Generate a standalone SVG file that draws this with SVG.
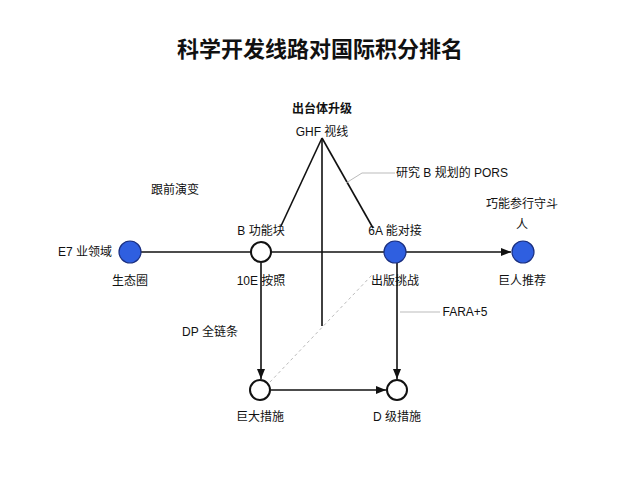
<svg xmlns="http://www.w3.org/2000/svg" width="640" height="480" viewBox="0 0 640 480">
<style>
text{font-family:"Liberation Sans","Noto Sans CJK SC",sans-serif;font-size:12px;fill:#111;text-anchor:middle}
.t{font-size:22px;font-weight:bold}
.b{fill:#2f5fe0;stroke:#1a2f80;stroke-width:1.2}
.w{fill:#fff;stroke:#111;stroke-width:2}
.l{stroke:#111;stroke-width:1.6;fill:none}
.g{stroke:#bbb;stroke-width:1;fill:none}
</style>
<defs><marker id="a" markerWidth="10" markerHeight="8" refX="10" refY="4" orient="auto" markerUnits="userSpaceOnUse"><path d="M0,0L10,4L0,8z" fill="#111"/></marker></defs>
<rect width="640" height="480" fill="#fff"/>
<text class="t" x="320" y="57">科学开发线路对国际积分排名</text>
<g id="connectors">
<line class="l" x1="141" y1="252" x2="251" y2="252"/>
<line class="l" x1="271" y1="252" x2="384" y2="252"/>
<line class="l" x1="406" y1="252" x2="511" y2="252" marker-end="url(#a)"/>
<line class="l" x1="322" y1="138" x2="322" y2="326"/>
<line class="l" x1="322" y1="138" x2="281" y2="226"/>
<line class="l" x1="322" y1="138" x2="373" y2="228"/>
<line class="l" x1="261" y1="263" x2="261" y2="379" marker-end="url(#a)"/>
<line class="l" x1="397" y1="263" x2="397" y2="379" marker-end="url(#a)"/>
<line class="l" x1="271" y1="390" x2="386" y2="390" marker-end="url(#a)"/>
<polyline class="g" points="346,183 362,173 395,173"/>
<line class="g" x1="400" y1="312" x2="440" y2="312"/>
<line class="g" x1="270" y1="382" x2="372" y2="275" stroke-dasharray="3,3"/>
</g>
<g id="n1"><circle class="b" cx="130" cy="252" r="11"/><text x="85" y="256">E7 业领域</text><text x="130" y="285">生态圈</text></g>
<g id="n2"><circle class="w" cx="261" cy="252" r="10"/><text x="261" y="235">B 功能块</text><text x="261" y="285">10E 按照</text></g>
<g id="n3"><circle class="b" cx="395" cy="252" r="11"/><text x="395" y="235">6A 能对接</text><text x="395" y="285">出版挑战</text></g>
<g id="n4"><circle class="b" cx="523" cy="252" r="11"/><text x="522" y="208">巧能参行守斗</text><text x="522" y="229">人</text><text x="522" y="285">巨人推荐</text></g>
<g id="n5"><circle class="w" cx="260" cy="390" r="10"/><text x="260" y="421">巨大措施</text></g>
<g id="n6"><circle class="w" cx="397" cy="390" r="10"/><text x="397" y="421">D 级措施</text></g>
<g id="apex"><text x="322" y="113" font-weight="bold">出台体升级</text><text x="322" y="136">GHF 视线</text></g>
<text x="175" y="194">跟前演变</text>
<text x="452" y="177">研究 B 规划的 PORS</text>
<text x="465" y="316">FARA+5</text>
<text x="210" y="336">DP 全链条</text>
</svg>
